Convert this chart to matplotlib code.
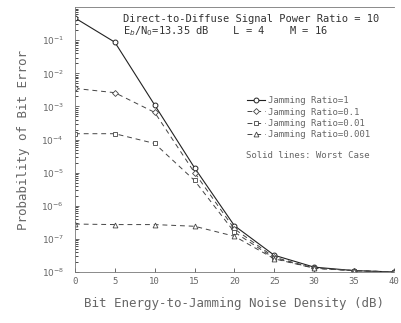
import matplotlib
matplotlib.use("Agg")
import matplotlib.pyplot as plt
import numpy as np

# dane
snr_db = [0, 5, 10, 15, 20, 25, 30, 35, 40]
ber_1 = [4.7e-1, 8.7e-2, 1.1e-3, 1.4e-5, 2.5e-7, 3.2e-8, 1.4e-8, 1.1e-8, 1.0e-8]
ber_01 = [3.5e-3, 2.6e-3, 6.6e-4, 1.0e-5, 2.0e-7, 2.8e-8, 1.3e-8, 1.1e-8, 1.0e-8]
ber_001 = [1.5e-4, 1.5e-4, 7.6e-5, 5.8e-6, 1.6e-7, 2.6e-8, 1.3e-8, 1.1e-8, 1.0e-8]
ber_0001 = [2.8e-7, 2.7e-7, 2.7e-7, 2.4e-7, 1.2e-7, 2.5e-8, 1.3e-8, 1.1e-8, 1.0e-8]
etykiety = ["Jamming Ratio=1", "Jamming Ratio=0.1",
            "Jamming Ratio=0.01", "Jamming Ratio=0.001"]
xticki = [0, 5, 10, 15, 20, 25, 30, 35, 40]

tekst = "#666666"
mono = "DejaVu Sans Mono"

fig = plt.figure(figsize=(4.01, 3.23), dpi=100)
ax = fig.add_axes([0.187, 0.158, 0.795, 0.82])

ax.semilogy(snr_db, ber_1, "-", color="#222222", lw=0.8, marker="o", ms=3.5,
            mfc="white", mew=0.7, label=etykiety[0])
ax.semilogy(snr_db, ber_01, "--", color="#444444", lw=0.7, dashes=(5, 4),
            marker="D", ms=3, mfc="white", mew=0.6, label=etykiety[1])
ax.semilogy(snr_db, ber_001, "--", color="#444444", lw=0.7, dashes=(5, 4),
            marker="s", ms=3.5, mfc="white", mew=0.6, label=etykiety[2])
ax.semilogy(snr_db, ber_0001, "--", color="#444444", lw=0.7, dashes=(5, 4),
            marker="^", ms=3.5, mfc="white", mew=0.6, label=etykiety[3])

ax.set_xlim(0, 40)
ax.set_ylim(1e-8, 1e0)
ax.set_xticks(xticki)
ax.set_xticklabels([str(t) for t in xticki], family=mono, fontsize=6.5, color=tekst)
ax.set_yticks([10.0 ** k for k in range(-8, 0)])
ax.set_yticklabels(["$10^{%d}$" % k for k in range(-8, 0)], fontsize=6.5, color=tekst)
ax.tick_params(axis="both", direction="in", length=3, width=0.6, colors="#555555")
ax.tick_params(axis="y", which="minor", direction="in", length=2, width=0.5)
ax.tick_params(axis="x", labelcolor=tekst)
ax.tick_params(axis="y", labelcolor=tekst, pad=8)
for s in ax.spines.values():
    s.set_linewidth(0.6)
    s.set_color("#777777")
ax.spines["right"].set_visible(False)

ax.set_xlabel("Bit Energy-to-Jamming Noise Density (dB)", family=mono,
              fontsize=9, color=tekst, labelpad=8)
ax.set_ylabel("Probability of Bit Error", family=mono, fontsize=9,
              color=tekst, labelpad=8)

ax.text(0.15, 0.975, "Direct-to-Diffuse Signal Power Ratio = 10",
        transform=ax.transAxes, family=mono, fontsize=7.5, color="#333333",
        va="top", ha="left")
ax.text(0.15, 0.935, "E$_b$/N$_0$=13.35 dB    L = 4    M = 16",
        transform=ax.transAxes, family=mono, fontsize=7.5, color="#333333",
        va="top", ha="left")

leg = ax.legend(loc="upper left", bbox_to_anchor=(0.525, 0.68), frameon=False,
                prop={"family": mono, "size": 6.5}, handlelength=2.0,
                handletextpad=0.3, labelspacing=0.25, borderpad=0)
for t in leg.get_texts():
    t.set_color(tekst)
ax.text(0.535, 0.44, "Solid lines: Worst Case", transform=ax.transAxes,
        family=mono, fontsize=6.5, color=tekst, va="center", ha="left")

fig.savefig("out.png", dpi=100)
